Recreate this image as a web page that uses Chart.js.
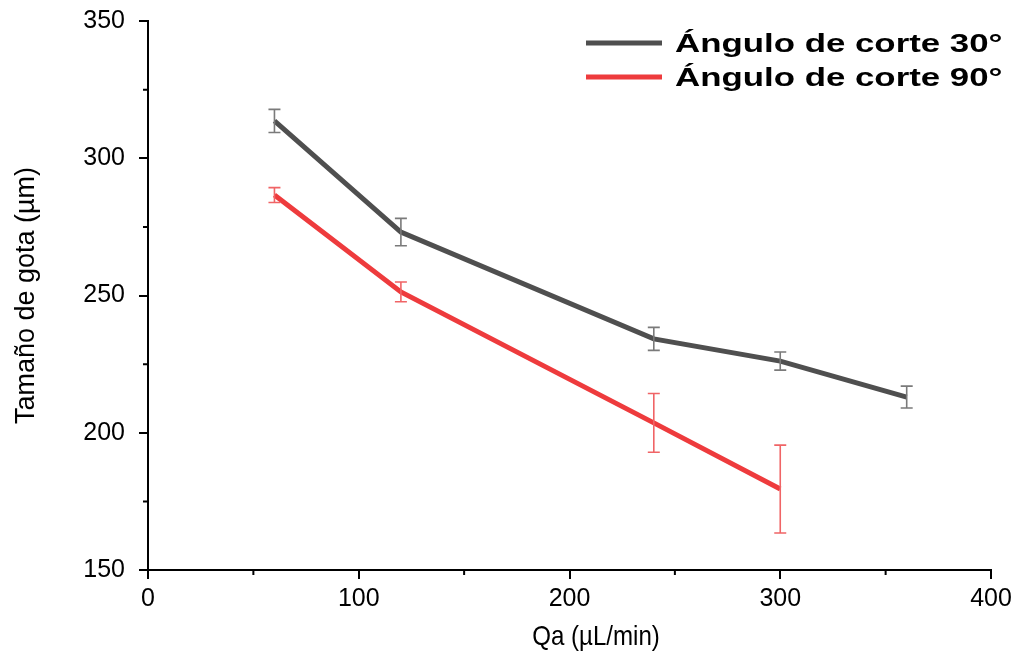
<!DOCTYPE html>
<html>
<head>
<meta charset="utf-8">
<script src="https://cdn.jsdelivr.net/npm/chart.js@4.4.1/dist/chart.umd.min.js"></script>
<style>
  body { margin: 0; background: #fff; }
  #wrap { width: 1020px; height: 658px; }
</style>
</head>
<body>
<div id="wrap"><canvas id="chart"></canvas></div>
<script>
// values
const flowRates = [60, 120, 240, 300, 360];
const size30 = [313.6, 273.1, 234.2, 226.1, 213.0];
const err30 = [4.2, 5.0, 4.2, 3.3, 4.0];
const flowRates90 = [60, 120, 240, 300];
const size90 = [286.6, 251.3, 203.6, 179.5];
const err90 = [2.7, 3.6, 10.7, 16.0];
const xTicks = [0, 100, 200, 300, 400];
const yTicks = [150, 200, 250, 300, 350];
const xTitle = 'Qa (µL/min)';

const font = "'Liberation Sans', Arial, sans-serif";

function toPoints(xs, ys, es) {
    return xs.map((x, i) => ({ x: x, y: ys[i], err: es[i] }));
}

// error bars, minor ticks, x title and legend
const extras = {
    id: 'extras',
    afterDatasetsDraw(chart) {
        const ctx = chart.ctx;
        const xs = chart.scales.x, ys = chart.scales.y;
        chart.data.datasets.forEach(ds => {
            ctx.save();
            ctx.strokeStyle = ds.errColor;
            ctx.lineWidth = 1.6;
            ds.data.forEach(p => {
                const px = xs.getPixelForValue(p.x);
                const top = ys.getPixelForValue(p.y + p.err);
                const bot = ys.getPixelForValue(p.y - p.err);
                ctx.beginPath();
                ctx.moveTo(px, top); ctx.lineTo(px, bot);
                ctx.moveTo(px - 6, top); ctx.lineTo(px + 6, top);
                ctx.moveTo(px - 6, bot); ctx.lineTo(px + 6, bot);
                ctx.stroke();
            });
            ctx.restore();
        });
    },
    afterDraw(chart) {
        const ctx = chart.ctx;
        const xs = chart.scales.x, ys = chart.scales.y;
        ctx.save();
        ctx.strokeStyle = '#000';
        ctx.lineWidth = 2;
        ctx.beginPath();
        for (let v = 50; v < 400; v += 100) {
            const px = xs.getPixelForValue(v);
            ctx.moveTo(px, xs.top); ctx.lineTo(px, xs.top + 5);
        }
        for (let v = 175; v < 350; v += 50) {
            const py = ys.getPixelForValue(v);
            ctx.moveTo(ys.right, py); ctx.lineTo(ys.right - 5, py);
        }
        ctx.stroke();

        // x title sits a bit right of centre in the original, narrow glyphs
        ctx.fillStyle = '#000';
        ctx.font = '28px ' + font;
        ctx.textAlign = 'center';
        ctx.textBaseline = 'middle';
        ctx.save();
        ctx.translate(596, 637);
        ctx.scale(0.86, 1);
        ctx.fillText(xTitle, 0, 0);
        ctx.restore();

        // legend (the original's bold legend text is wide)
        ctx.font = 'bold 26px ' + font;
        ctx.textAlign = 'left';
        chart.data.datasets.forEach((ds, i) => {
            const y = 43 + i * 34;
            ctx.strokeStyle = ds.borderColor;
            ctx.lineWidth = 5;
            ctx.beginPath();
            ctx.moveTo(586, y); ctx.lineTo(662, y);
            ctx.stroke();
            ctx.save();
            ctx.translate(675, y + 2);
            ctx.scale(1.34, 1);
            ctx.fillText(ds.label, 0, 0);
            ctx.restore();
        });
        ctx.restore();
    }
};

new Chart(document.getElementById('chart'), {
    type: 'scatter',
    data: {
        datasets: [
            {
                label: 'Ángulo de corte 30°',
                data: toPoints(flowRates, size30, err30),
                showLine: true,
                borderColor: '#4f4f4f',
                errColor: '#7a7a7a',
                borderWidth: 5,
                pointRadius: 0,
                tension: 0
            },
            {
                label: 'Ángulo de corte 90°',
                data: toPoints(flowRates90, size90, err90),
                showLine: true,
                borderColor: '#ee3b3d',
                errColor: '#f06466',
                borderWidth: 5,
                pointRadius: 0,
                tension: 0
            }
        ]
    },
    options: {
        responsive: true,
        maintainAspectRatio: false,
        animation: false,
        layout: { padding: { top: 21, right: 29, left: 0, bottom: 0 } },
        plugins: { legend: { display: false }, tooltip: { enabled: false } },
        scales: {
            x: {
                type: 'linear',
                min: 0, max: 400,
                afterBuildTicks: s => { s.ticks = xTicks.map(v => ({ value: v })); },
                afterFit: s => { s.height = 88; s.paddingLeft = 0; s.paddingRight = 0; },
                border: { color: '#000', width: 2 },
                grid: { drawOnChartArea: false, color: '#000', lineWidth: 2, tickLength: 9 },
                ticks: { color: '#000', font: { family: font, size: 25 }, padding: 5, maxRotation: 0 },
                title: { display: false }
            },
            y: {
                min: 150, max: 350,
                afterBuildTicks: s => { s.ticks = yTicks.map(v => ({ value: v })); },
                afterFit: s => { s.width = 148; s.paddingTop = 0; s.paddingBottom = 0; },
                border: { color: '#000', width: 2 },
                grid: { drawOnChartArea: false, color: '#000', lineWidth: 2, tickLength: 9 },
                ticks: { color: '#000', font: { family: font, size: 25 }, padding: 14 },
                title: { display: true, text: 'Tamaño de gota (µm)', color: '#000', font: { family: font, size: 27 }, padding: { top: 10, bottom: 0 } }
            }
        }
    },
    plugins: [extras]
});
</script>
</body>
</html>
